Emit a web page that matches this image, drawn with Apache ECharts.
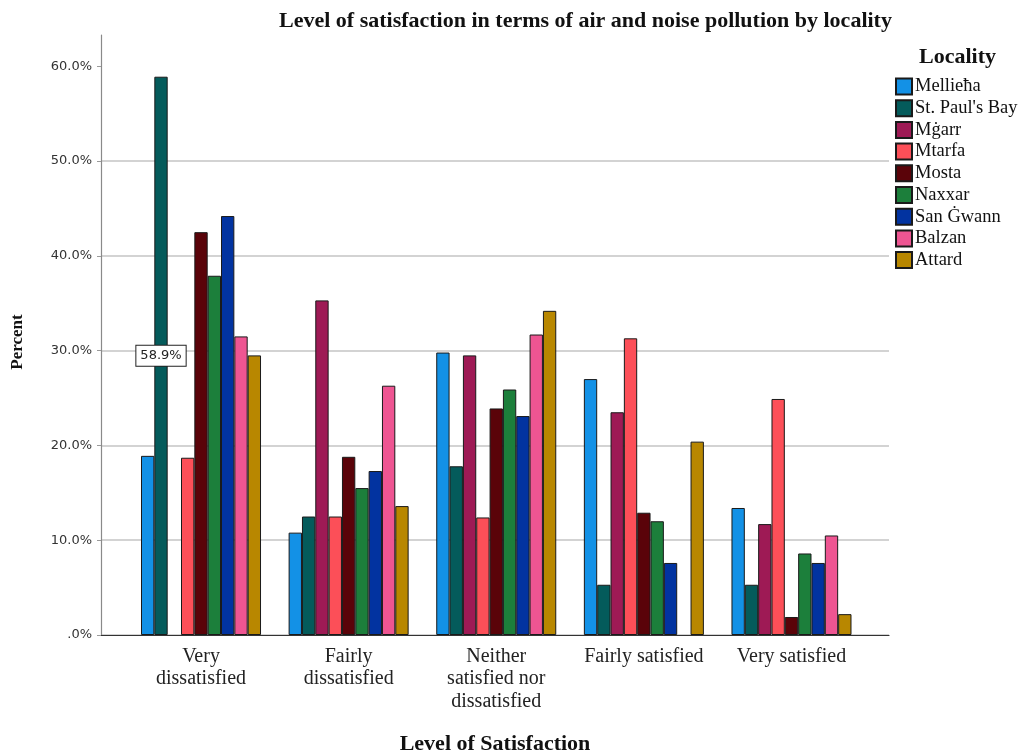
<!DOCTYPE html>
<html>
<head>
<meta charset="utf-8">
<title>Level of satisfaction in terms of air and noise pollution by locality</title>
<script src="https://cdn.jsdelivr.net/npm/echarts@6/dist/echarts.min.js"></script>
<style>
  html, body { margin: 0; padding: 0; background: #ffffff; }
  #chart { width: 1021px; height: 753px; }
</style>
</head>
<body>
<div id="chart"></div>
<script>
// Satisfaction levels (x categories)
const categories = [
  'Very\ndissatisfied',
  'Fairly\ndissatisfied',
  'Neither\nsatisfied nor\ndissatisfied',
  'Fairly satisfied',
  'Very satisfied'
];

// Localities, in legend order
const localities = ['Mellieħa', "St. Paul's Bay", 'Mġarr', 'Mtarfa', 'Mosta', 'Naxxar', 'San Ġwann', 'Balzan', 'Attard'];

// Percent of respondents per satisfaction level, one array per locality
const mellieha  = [18.9, 10.8, 29.8, 27.0, 13.4];
const stPauls   = [58.9, 12.5, 17.8,  5.3,  5.3];
const mgarr     = [ 0.0, 35.3, 29.5, 23.5, 11.7];
const mtarfa    = [18.7, 12.5, 12.4, 31.3, 24.9];
const mosta     = [42.5, 18.8, 23.9, 12.9,  1.9];
const naxxar    = [37.9, 15.5, 25.9, 12.0,  8.6];
const sanGwann  = [44.2, 17.3, 23.1,  7.6,  7.6];
const balzan    = [31.5, 26.3, 31.7,  0.0, 10.5];
const attard    = [29.5, 13.6, 34.2, 20.4,  2.2];

const seriesValues = [mellieha, stPauls, mgarr, mtarfa, mosta, naxxar, sanGwann, balzan, attard];

const colors = ['#1391E6', '#045B5B', '#9E1A55', '#FC4F58', '#5A0309', '#1C7F3B', '#0233A0', '#EE5592', '#B88700'];

// Y-axis tick values and the top of the value range
const yTicks = [0, 10, 20, 30, 40, 50, 60];
const yMax = 63.3;

// Bars carrying a value label: [series index, category index]
const labelledBars = [[1, 0]];

const serif = 'Liberation Serif';
const sans = 'DejaVu Sans';

function pctLabel(v) {
  const s = Number(v).toFixed(1) + '%';
  return s.startsWith('0.') ? s.slice(1) : s;
}

const chart = echarts.init(document.getElementById('chart'), null, { renderer: 'canvas' });

const series = seriesValues.map((vals, si) => ({
  name: localities[si],
  type: 'bar',
  xAxisIndex: 1,
  yAxisIndex: 1,
  barGap: '0%',
  barCategoryGap: '18.7%',
  itemStyle: { color: colors[si], borderColor: '#1a1a1a', borderWidth: 1 },
  emphasis: { disabled: true },
  data: vals.map((v, ci) => {
    // an empty cell draws no bar at all
    if (v === 0) return '-';
    const lab = labelledBars.some(([s, c]) => s === si && c === ci);
    if (!lab) return v;
    return {
      value: v,
      label: {
        show: true,
        position: 'inside',
        formatter: p => pctLabel(p.value),
        fontFamily: sans,
        fontSize: 13,
        color: '#222',
        backgroundColor: '#ffffff',
        borderColor: '#222',
        borderWidth: 1,
        padding: [4, 4, 3, 4]
      }
    };
  })
}));

chart.setOption({
  animation: false,
  backgroundColor: '#ffffff',
  color: colors,
  title: [
    {
      text: 'Level of satisfaction in terms of air and noise pollution by locality',
      left: 279,
      top: 10,
      padding: 0,
      textStyle: { fontFamily: serif, fontWeight: 'bold', fontSize: 22, color: '#111' }
    },
    {
      text: 'Locality',
      left: 919,
      top: 46,
      padding: 0,
      textStyle: { fontFamily: serif, fontWeight: 'bold', fontSize: 22, color: '#111' }
    }
  ],
  legend: {
    orient: 'vertical',
    left: 895,
    top: 77,
    padding: 0,
    itemWidth: 16,
    itemHeight: 16,
    itemGap: 2.7,
    icon: 'rect',
    selectedMode: false,
    textStyle: { fontFamily: serif, fontSize: 18.5, lineHeight: 16, color: '#111', padding: [0, 0, 0, -2] },
    data: localities
  },
  grid: [
    // frame grid: axis lines, gridlines, tick labels
    { left: 101, right: 132, top: 35, bottom: 118, outerBoundsMode: 'none' },
    // bar grid
    { left: 127.2, right: 155.7, top: 35, bottom: 118, outerBoundsMode: 'none' }
  ],
  xAxis: [
    {
      gridIndex: 0,
      type: 'value',
      min: 0,
      max: 1,
      axisLine: { show: true, onZero: false, lineStyle: { color: '#333', width: 1.2 } },
      axisTick: { show: false },
      axisLabel: { show: false },
      splitLine: { show: false },
      name: 'Level of Satisfaction',
      nameLocation: 'middle',
      nameGap: 98,
      nameTextStyle: { fontFamily: serif, fontWeight: 'bold', fontSize: 22, color: '#111' }
    },
    {
      gridIndex: 1,
      type: 'category',
      data: categories,
      axisLine: { show: false },
      axisTick: { show: false },
      axisLabel: {
        interval: 0,
        margin: 10,
        fontFamily: serif,
        fontSize: 20,
        lineHeight: 22.5,
        color: '#222'
      }
    }
  ],
  yAxis: [
    {
      gridIndex: 0,
      type: 'value',
      min: 0,
      max: yMax,
      interval: 10,
      axisLine: { show: true, lineStyle: { color: '#8a8a8a', width: 1.2 } },
      axisTick: { show: true, length: 4, lineStyle: { color: '#9a9a9a' }, customValues: yTicks },
      axisLabel: {
        margin: 9,
        fontFamily: sans,
        fontSize: 13,
        color: '#333',
        customValues: yTicks,
        formatter: v => pctLabel(v)
      },
      splitLine: { show: true, showMaxLine: false, lineStyle: { color: '#c4c4c4', width: 1.6 } }
    },
    {
      gridIndex: 1,
      type: 'value',
      min: 0,
      max: yMax,
      show: false,
      splitLine: { show: false }
    }
  ],
  graphic: [
    {
      type: 'text',
      x: 18,
      y: 342,
      rotation: Math.PI / 2,
      style: {
        text: 'Percent',
        fontFamily: serif,
        fontWeight: 'bold',
        fontSize: 17,
        fill: '#111',
        align: 'center',
        verticalAlign: 'middle'
      }
    }
  ],
  series: series
});
</script>
</body>
</html>
